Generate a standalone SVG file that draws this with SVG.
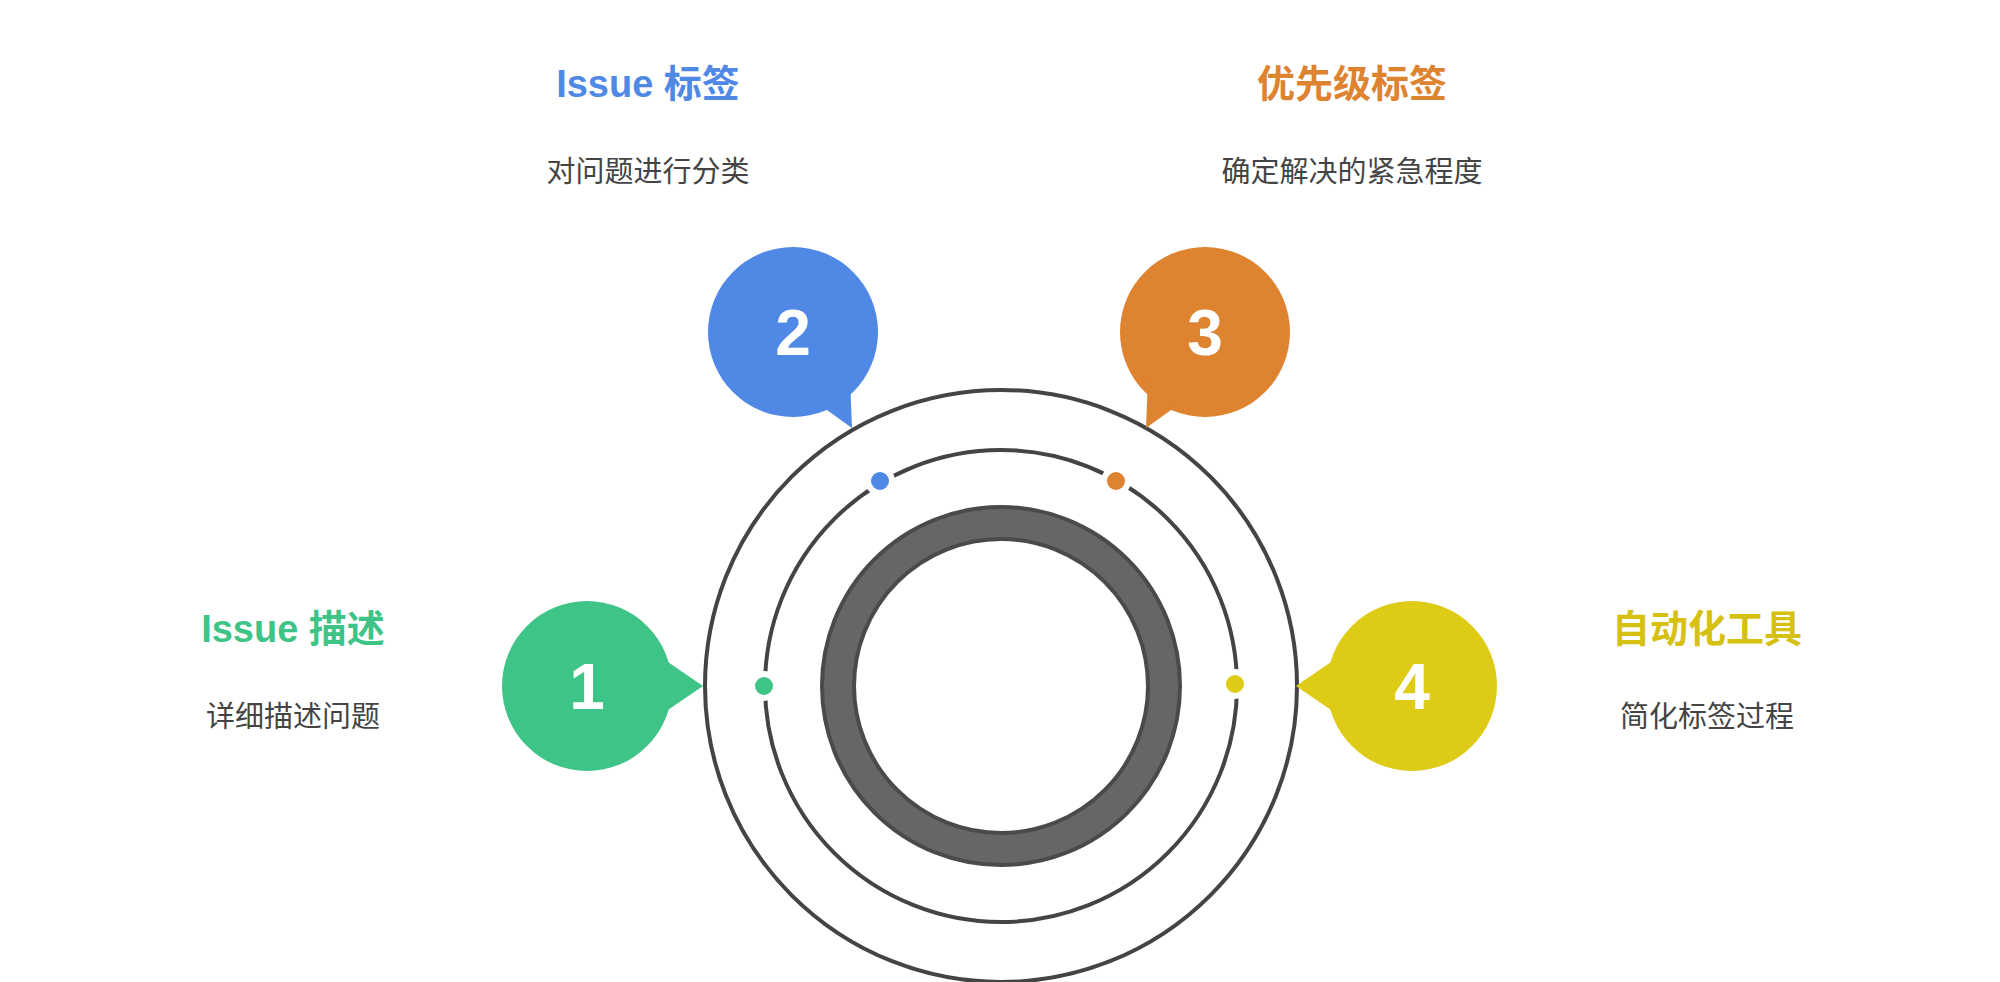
<svg xmlns="http://www.w3.org/2000/svg" width="2000" height="982" viewBox="0 0 2000 982">
<style>
.t{font-family:"Liberation Sans","Noto Sans CJK SC",sans-serif;font-weight:bold;font-size:38px;text-anchor:middle}
.s{font-family:"Liberation Sans","Noto Sans CJK SC",sans-serif;font-size:29px;fill:#444;text-anchor:middle}
.n{font-family:"Liberation Sans",sans-serif;font-weight:bold;font-size:64px;fill:#fff;text-anchor:middle}
.ring{fill:none;stroke:#444;stroke-width:4}
.dot{stroke:#fff;stroke-width:6}
</style>
<rect width="2000" height="982" fill="#fff"/>
<g id="rings">
<circle class="ring" cx="1001" cy="686" r="296"/>
<circle class="ring" cx="1001" cy="686" r="236"/>
<circle cx="1001" cy="686" r="163" fill="none" stroke="#4a4a4a" stroke-width="36"/>
<circle cx="1001" cy="686" r="163" fill="none" stroke="#666" stroke-width="28"/>
</g>
<g id="connectors">
<circle class="dot" cx="764" cy="686" r="12" fill="#3EC487"/>
<circle class="dot" cx="880" cy="481" r="12" fill="#4F88E5"/>
<circle class="dot" cx="1116" cy="481" r="12" fill="#DE8330"/>
<circle class="dot" cx="1235" cy="684" r="12" fill="#DECB16"/>
</g>
<g id="node1">
<circle cx="587" cy="686" r="85" fill="#3EC487"/>
<polygon points="665,660 703,686 665,712" fill="#3EC487"/>
<text class="n" x="587" y="709">1</text>
<text class="t" x="293" y="642" fill="#3EC487">Issue 描述</text>
<text class="s" x="293" y="727">详细描述问题</text>
</g>
<g id="node2">
<circle cx="793" cy="332" r="85" fill="#4F88E5"/>
<polygon points="820,405 850,378 852,428" fill="#4F88E5"/>
<text class="n" x="793" y="355">2</text>
<text class="t" x="648" y="97" fill="#4F88E5">Issue 标签</text>
<text class="s" x="648" y="182">对问题进行分类</text>
</g>
<g id="node3">
<circle cx="1205" cy="332" r="85" fill="#DE8330"/>
<polygon points="1178,405 1148,378 1146,428" fill="#DE8330"/>
<text class="n" x="1205" y="355">3</text>
<text class="t" x="1352" y="97" fill="#DE8330">优先级标签</text>
<text class="s" x="1352" y="182">确定解决的紧急程度</text>
</g>
<g id="node4">
<circle cx="1412" cy="686" r="85" fill="#DECB16"/>
<polygon points="1334,660 1296,686 1334,712" fill="#DECB16"/>
<text class="n" x="1412" y="709">4</text>
<text class="t" x="1707" y="642" fill="#D6C112">自动化工具</text>
<text class="s" x="1707" y="727">简化标签过程</text>
</g>
</svg>
